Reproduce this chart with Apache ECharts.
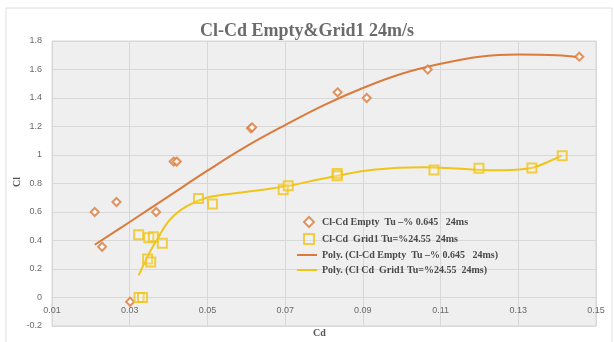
<!DOCTYPE html>
<html>
<head>
<meta charset="utf-8">
<script src="https://cdn.jsdelivr.net/npm/echarts@6/dist/echarts.min.js"></script>
<style>
  html, body { margin: 0; padding: 0; background: #fff; }
  #chart { width: 614px; height: 342px; }
</style>
</head>
<body>
<div id="chart"></div>
<script>
// measured points, Empty (diamonds)
var emptyCd = [0.021, 0.0229, 0.0266, 0.0301, 0.0368, 0.0413, 0.0421, 0.0612, 0.0615, 0.0835, 0.091, 0.1067, 0.1457]
var emptyCl = [0.60, 0.356, 0.67, -0.03, 0.60, 0.954, 0.954, 1.187, 1.194, 1.44, 1.40, 1.60, 1.69]
// measured points, Grid1 (squares)
var gridCd = [0.0323, 0.0349, 0.0361, 0.0384, 0.0346, 0.0354, 0.0324, 0.0333, 0.0477, 0.0513, 0.0695, 0.0708, 0.0834, 0.0834, 0.1083, 0.1199, 0.1335, 0.1413]
var gridCl = [0.44, 0.42, 0.426, 0.38, 0.27, 0.25, 0.0, 0.0, 0.695, 0.657, 0.756, 0.785, 0.87, 0.855, 0.895, 0.907, 0.909, 0.994]
// poly trend lines
var emptyFitCd = [0.021, 0.03, 0.04, 0.05, 0.06, 0.07, 0.08, 0.09, 0.10, 0.11, 0.12, 0.13, 0.14, 0.1457]
var emptyFitCl = [0.37, 0.53, 0.71, 0.89, 1.06, 1.21, 1.35, 1.47, 1.57, 1.64, 1.69, 1.705, 1.70, 1.685]
var gridFitCd = [0.0323, 0.0352, 0.0369, 0.0403, 0.0446, 0.0498, 0.0566, 0.0652, 0.0712, 0.0763, 0.0834, 0.0926, 0.1055, 0.114, 0.1226, 0.1295, 0.1337, 0.138, 0.1413]
var gridFitCl = [0.155, 0.32, 0.40, 0.545, 0.64, 0.70, 0.73, 0.76, 0.785, 0.815, 0.855, 0.897, 0.914, 0.905, 0.893, 0.897, 0.91, 0.956, 0.997]

var seriesNames = [
  'Cl-Cd Empty  Tu \u2013% 0.645   24ms',
  'Cl-Cd  Grid1 Tu=%24.55  24ms',
  'Poly. (Cl-Cd Empty  Tu \u2013% 0.645   24ms)',
  'Poly. (Cl Cd  Grid1 Tu=%24.55  24ms)'
]

var orange = '#DA7B3C'
var yellow = '#F0C419'
var lineIcon = 'path://M0,0 H20 V2 H0 Z'

function pairs(xs, ys) {
  return xs.map(function (x, i) { return [x, ys[i]] })
}

var legendText = { fontFamily: 'Liberation Serif', fontSize: 10, fontWeight: 'bold', color: '#4a4a4a' }

var chart = echarts.init(document.getElementById('chart'))
var option = {
  backgroundColor: '#fff',
  animation: false,
  title: {
    text: 'Cl-Cd Empty&Grid1 24m/s',
    left: 'center',
    top: 17,
    textStyle: { fontFamily: 'Liberation Serif', fontSize: 18, fontWeight: 'bold', color: '#6b6b6b' }
  },
  graphic: [
    { type: 'rect', shape: { x: 6, y: 8, width: 606, height: 340 }, style: { fill: 'none', stroke: '#dedede', lineWidth: 1 }, silent: true },
    { type: 'text', left: 313, top: 328, style: { text: 'Cd', font: 'bold 10px "Liberation Serif"', fill: '#555' } },
    { type: 'text', left: 12, top: 177, rotation: Math.PI / 2, style: { text: 'Cl', font: 'bold 10px "Liberation Serif"', fill: '#555' } }
  ],
  grid: {
    left: 52, right: 18, top: 41, bottom: 16,
    show: true, backgroundColor: '#efefef', borderColor: '#d6d6d6', borderWidth: 1
  },
  legend: [
    {
      orient: 'vertical', left: 303, top: 216, padding: 0,
      itemWidth: 10, itemHeight: 10, itemGap: 5,
      textStyle: Object.assign({ padding: [0, 0, 0, 3] }, legendText),
      data: [seriesNames[0], seriesNames[1]]
    },
    {
      orient: 'vertical', left: 297, top: 250, padding: 0,
      itemWidth: 20, itemHeight: 10, itemGap: 5,
      textStyle: legendText,
      data: [
        { name: seriesNames[2], icon: lineIcon },
        { name: seriesNames[3], icon: lineIcon }
      ]
    }
  ],
  xAxis: {
    type: 'value',
    min: 0.01, max: 0.15, interval: 0.02,
    offset: -28.5,
    axisLine: { show: false, onZero: false },
    axisTick: { show: false },
    axisLabel: { fontFamily: 'Liberation Sans', fontSize: 9, color: '#6a6a6a', margin: 9 },
    splitLine: { lineStyle: { color: '#d8d8d8', width: 1 } }
  },
  yAxis: {
    type: 'value',
    min: -0.2, max: 1.8, interval: 0.2,
    axisLine: { show: false },
    axisTick: { show: false },
    axisLabel: { fontFamily: 'Liberation Sans', fontSize: 9, color: '#6a6a6a', margin: 10 },
    splitLine: { lineStyle: { color: '#d8d8d8', width: 1 } }
  },
  series: [
    {
      name: seriesNames[2], type: 'line', smooth: 0.4, symbol: 'none',
      lineStyle: { color: orange, width: 2 }, itemStyle: { color: orange },
      data: pairs(emptyFitCd, emptyFitCl), z: 2
    },
    {
      name: seriesNames[3], type: 'line', smooth: 0.4, symbol: 'none',
      lineStyle: { color: yellow, width: 2 }, itemStyle: { color: yellow },
      data: pairs(gridFitCd, gridFitCl), z: 2
    },
    {
      name: seriesNames[0], type: 'scatter', symbol: 'diamond', symbolSize: 8,
      itemStyle: { color: '#fff', borderColor: orange, borderWidth: 2 },
      data: pairs(emptyCd, emptyCl), z: 3
    },
    {
      name: seriesNames[1], type: 'scatter', symbol: 'rect', symbolSize: 9,
      itemStyle: { color: 'rgba(255,255,255,0.2)', borderColor: yellow, borderWidth: 2 },
      data: pairs(gridCd, gridCl), z: 3
    }
  ]
}
chart.setOption(option)
</script>
</body>
</html>
